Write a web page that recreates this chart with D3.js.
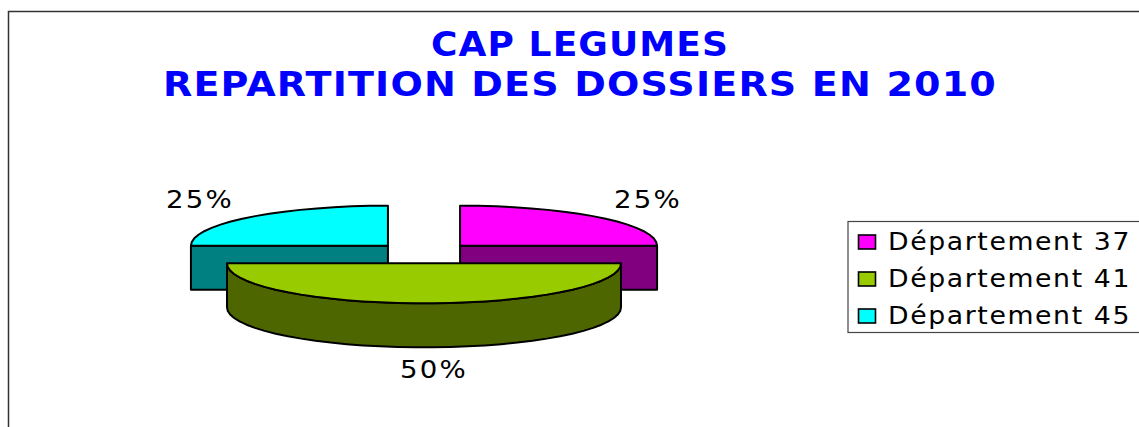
<!DOCTYPE html>
<html>
<head>
<meta charset="utf-8">
<script src="https://cdn.jsdelivr.net/npm/d3@7"></script>
<style>
  html, body { margin: 0; padding: 0; background: #fff; overflow: hidden; }
  text { font-family: "DejaVu Sans", Verdana, sans-serif; }
</style>
</head>
<body>
<svg id="chart" width="1139" height="427"></svg>
<script>
const departments = ["Département 37", "Département 41", "Département 45"];
const shares = [25, 50, 25];
const shareLabels = ["25%", "50%", "25%"];
const topColors = ["#ff00ff", "#99cc00", "#00ffff"];
const sideColors = ["#800080", "#4d6600", "#008080"];
const titleLines = ["CAP LEGUMES", "REPARTITION DES DOSSIERS EN 2010"];
// the original font runs wider than DejaVu, so widths are forced
const titleWidths = [298, 834];

const svg = d3.select("#chart");

// chart frame, runs off the right and bottom of the picture
svg.append("path")
  .attr("d", "M8.5,427V11.5H1139")
  .attr("fill", "none")
  .attr("stroke", "#333")
  .attr("stroke-width", 1.5);

svg.selectAll(".title")
  .data(titleLines)
  .enter()
  .append("text")
  .attr("class", "title")
  .attr("x", 580)
  .attr("y", (d, i) => 56 + i * 40)
  .attr("text-anchor", "middle")
  .attr("font-size", 33)
  .attr("font-weight", "bold")
  .attr("letter-spacing", "1px")
  .attr("fill", "#0000ff")
  .attr("textLength", (d, i) => titleWidths[i])
  .attr("lengthAdjust", "spacingAndGlyphs")
  .text(d => d);

// pie geometry
const cx = 424, cy = 253;
const rx = 197, ry = 40, depth = 44;
const explode = 51;
const tilt = ry / rx;

const slices = d3.pie().sort(null).startAngle(0).endAngle(2 * Math.PI)(shares);

function rim(c, a) {
  return [c.x + rx * Math.sin(a), c.y - ry * Math.cos(a)];
}
function sliceCenter(d) {
  const mid = (d.startAngle + d.endAngle) / 2;
  return {
    x: cx + explode * Math.sin(mid),
    y: cy - explode * tilt * Math.cos(mid)
  };
}
function rimPoints(d, c) {
  // coarse on purpose, the reference rim is visibly faceted
  const n = Math.round((d.endAngle - d.startAngle) / 0.09);
  return d3.range(n + 1).map(i => rim(c, d.startAngle + (d.endAngle - d.startAngle) * i / n));
}
const line = d3.line();

// back slices first, the big front slice goes over them
const drawOrder = [0, 2, 1];
const pieG = svg.append("g")
  .attr("stroke", "#000")
  .attr("stroke-width", 2)
  .attr("stroke-linejoin", "round");

drawOrder.forEach(k => {
  const d = slices[k];
  const c = sliceCenter(d);
  const pts = rimPoints(d, c);
  const g = pieG.append("g");

  if (k === 1) {
    // front slice: outer wall below the visible rim
    const low = pts.map(p => [p[0], p[1] + depth]).reverse();
    g.append("path")
      .attr("d", line(pts.concat(low)) + "Z")
      .attr("fill", sideColors[k]);
  } else {
    // back slices: flat cut face toward the viewer
    const outer = k === 0 ? pts[pts.length - 1] : pts[0];
    const face = [[c.x, c.y], outer, [outer[0], outer[1] + depth], [c.x, c.y + depth]];
    g.append("path")
      .attr("d", line(face) + "Z")
      .attr("fill", sideColors[k]);
  }

  g.append("path")
    .attr("d", line([[c.x, c.y]].concat(pts)) + "Z")
    .attr("fill", topColors[k]);
});

// percent labels
const labelX = [648, 434, 200];
const labelY = [208, 378, 208];
svg.selectAll(".pct")
  .data(shareLabels)
  .enter()
  .append("text")
  .attr("class", "pct")
  .attr("x", (d, i) => labelX[i])
  .attr("y", (d, i) => labelY[i])
  .attr("text-anchor", "middle")
  .attr("font-size", 25)
  .attr("letter-spacing", "2px")
  .attr("fill", "#000")
  .attr("textLength", 68)
  .attr("lengthAdjust", "spacingAndGlyphs")
  .text(d => d);

// legend
const legend = svg.append("g");
legend.append("rect")
  .attr("x", 848)
  .attr("y", 221.5)
  .attr("width", 300)
  .attr("height", 111)
  .attr("fill", "#fff")
  .attr("stroke", "#444")
  .attr("stroke-width", 1.2);

const rows = legend.selectAll(".row")
  .data(departments)
  .enter()
  .append("g")
  .attr("class", "row")
  .attr("transform", (d, i) => "translate(0," + (i * 37) + ")");

rows.append("rect")
  .attr("x", 858.5)
  .attr("y", 235)
  .attr("width", 17)
  .attr("height", 14)
  .attr("fill", (d, i) => topColors[i])
  .attr("stroke", "#000")
  .attr("stroke-width", 1.6);

rows.append("text")
  .attr("x", 888)
  .attr("y", 250)
  .attr("font-size", 25)
  .attr("letter-spacing", "1.5px")
  .attr("fill", "#000")
  .attr("textLength", 243)
  .attr("lengthAdjust", "spacingAndGlyphs")
  .text(d => d);
</script>
</body>
</html>
